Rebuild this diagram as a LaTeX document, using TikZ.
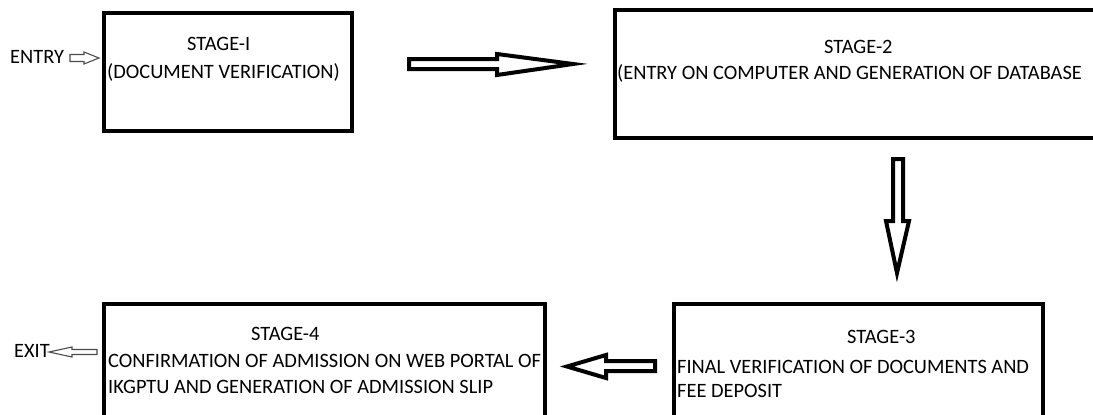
\documentclass[tikz,border=0pt]{standalone}
\usepackage{fontspec}
\setmainfont{Carlito}
\usepackage{tikz}

\tikzset{
  stagebox/.style={draw,line width=4pt,inner sep=0pt},
  stagetext/.style={anchor=base west,inner sep=0pt,font=\fontsize{20.4}{24}\selectfont},
  fatarrow/.style={draw,line width=4pt,fill=white,line join=miter},
  thinarrow/.style={draw=black!70,line width=1.1pt,fill=white,line join=miter}
}

\begin{document}
\begin{tikzpicture}[x=1pt,y=-1pt]
    \useasboundingbox (0,0) rectangle (1093,415);
    \fill[white] (0,0) rectangle (1093,415);
    \clip (0,0) rectangle (1093,415);

    % stage boxes (stage 2 runs off the right side)
    \node[stagebox,minimum width=248pt,minimum height=118pt] (s1) at (228,72) {};
    \node[inner sep=0pt,minimum width=530pt,minimum height=128pt] (s2) at (880,74) {};
    \draw[line width=4pt] (s2.north east) -- (s2.north west) -- (s2.south west) -- (s2.south east);
    \node[stagebox,minimum width=369pt,minimum height=136pt] (s3) at (858.5,372) {};
    \node[stagebox,minimum width=441pt,minimum height=136pt] (s4) at (324.5,372) {};

    % texts
    \node[stagetext] (entry) at (10,63) {ENTRY};
    \node[stagetext] (exit) at (14,357) {EXIT};
    \node[stagetext] (s1a) at (187,50) {STAGE-I};
    \node[stagetext] (s1b) at (107,78) {(DOCUMENT VERIFICATION)};
    \node[stagetext] (s2a) at (824,53) {STAGE-2};
    \node[stagetext] (s2b) at (617,79) {(ENTRY ON COMPUTER AND GENERATION OF DATABASE};
    \node[stagetext] (s3a) at (847,343) {STAGE-3};
    \node[stagetext] (s3b) at (677,373) {FINAL VERIFICATION OF DOCUMENTS AND};
    \node[stagetext] (s3c) at (677,397) {FEE DEPOSIT};
    \node[stagetext] (s4a) at (251,340) {STAGE-4};
    \node[stagetext] (s4b) at (108,367) {CONFIRMATION OF ADMISSION ON WEB PORTAL OF};
    \node[stagetext] (s4c) at (108,393) {IKGPTU AND GENERATION OF ADMISSION SLIP};

    % small arrows
    \draw[thinarrow] (70,54.5) -- (84,54.5) -- (84,52) -- (99,58) -- (84,64) -- (84,61.5) -- (70,61.5) -- cycle;
    \draw[thinarrow] (97,349.5) -- (72,349.5) -- (72,347) -- (49,352) -- (72,357) -- (72,354.5) -- (97,354.5) -- cycle;

    % block arrows between stages
    \draw[fatarrow] (409,59) -- (497,59) -- (497,54) -- (573,64) -- (497,75) -- (497,69) -- (409,69) -- cycle;
    \draw[fatarrow] (893,159) -- (903,159) -- (903,221) -- (909,221) -- (897,273) -- (886,221) -- (893,221) -- cycle;
    \draw[fatarrow] (655,361) -- (606,361) -- (606,355) -- (567,366.5) -- (606,378) -- (606,371) -- (655,371) -- cycle;
\end{tikzpicture}
\end{document}
